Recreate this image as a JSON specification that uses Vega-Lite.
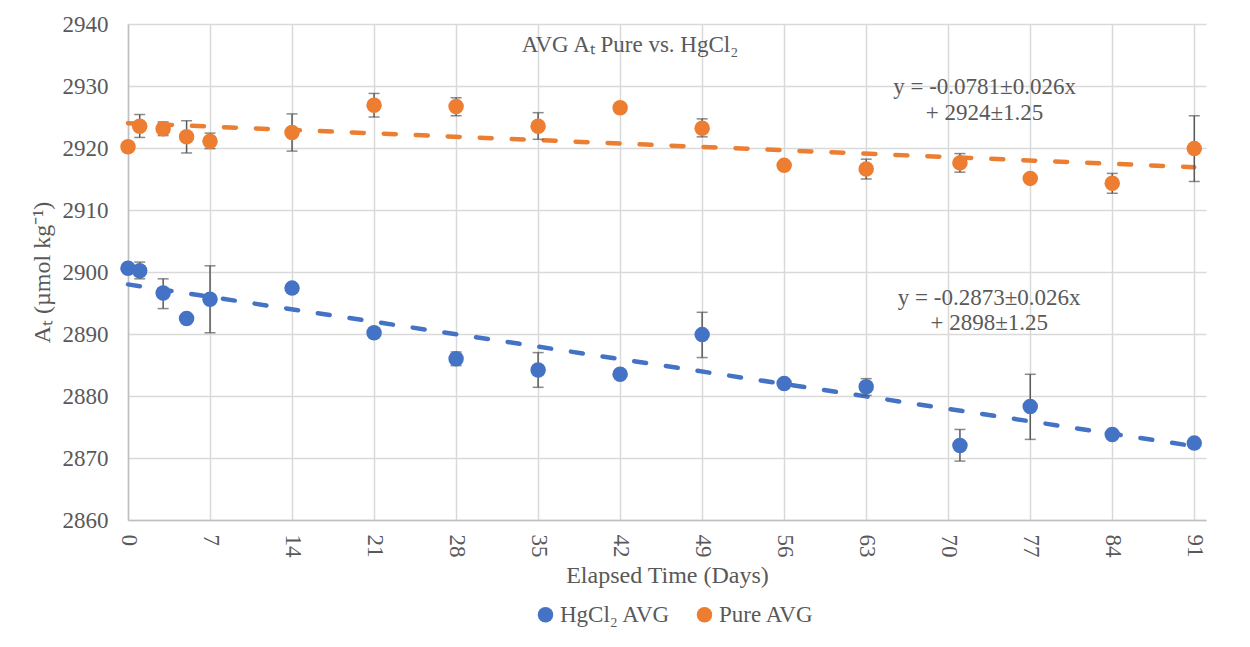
{
  "$schema": "https://vega.github.io/schema/vega-lite/v6.json",
  "autosize": {"type": "none"},
  "width": 1078,
  "height": 496,
  "padding": {"left": 128, "top": 24, "right": 44, "bottom": 127},
  "background": "white",
  "config": {
    "font": "Liberation Serif",
    "view": {"stroke": null},
    "axis": {
      "labelFont": "Liberation Serif",
      "titleFont": "Liberation Serif",
      "labelFontSize": 23,
      "titleFontSize": 24,
      "labelColor": "#595959",
      "titleColor": "#595959",
      "titleFontWeight": "normal",
      "gridColor": "#d9d9d9",
      "gridWidth": 1.5,
      "domainColor": "#bfbfbf",
      "domainWidth": 1.5,
      "ticks": false
    },
    "legend": {
      "labelFont": "Liberation Serif",
      "labelFontSize": 23,
      "labelColor": "#595959"
    }
  },
  "title": {
    "text": "AVG Aₜ Pure vs. HgCl₂",
    "font": "Liberation Serif",
    "fontSize": 23,
    "fontWeight": "normal",
    "color": "#595959",
    "anchor": "middle",
    "frame": "group",
    "baseline": "middle",
    "offset": -55,
    "dx": -37
  },
  "datasets": {
    "points": [
      {"series": "Pure AVG", "day": 0, "value": 2920.2},
      {"series": "Pure AVG", "day": 1, "value": 2923.5, "lo": 2921.7, "hi": 2925.4},
      {"series": "Pure AVG", "day": 3, "value": 2923.1, "lo": 2922.0, "hi": 2924.2},
      {"series": "Pure AVG", "day": 5, "value": 2921.8, "lo": 2919.2, "hi": 2924.4},
      {"series": "Pure AVG", "day": 7, "value": 2921.1, "lo": 2919.9, "hi": 2922.4},
      {"series": "Pure AVG", "day": 14, "value": 2922.5, "lo": 2919.5, "hi": 2925.5},
      {"series": "Pure AVG", "day": 21, "value": 2926.9, "lo": 2925.0, "hi": 2928.8},
      {"series": "Pure AVG", "day": 28, "value": 2926.7, "lo": 2925.2, "hi": 2928.1},
      {"series": "Pure AVG", "day": 35, "value": 2923.5, "lo": 2921.4, "hi": 2925.7},
      {"series": "Pure AVG", "day": 42, "value": 2926.5},
      {"series": "Pure AVG", "day": 49, "value": 2923.2, "lo": 2921.8, "hi": 2924.7},
      {"series": "Pure AVG", "day": 56, "value": 2917.2},
      {"series": "Pure AVG", "day": 63, "value": 2916.6, "lo": 2915.0, "hi": 2918.2},
      {"series": "Pure AVG", "day": 71, "value": 2917.6, "lo": 2916.1, "hi": 2919.1},
      {"series": "Pure AVG", "day": 77, "value": 2915.1},
      {"series": "Pure AVG", "day": 84, "value": 2914.3, "lo": 2912.7, "hi": 2915.9},
      {"series": "Pure AVG", "day": 91, "value": 2919.9, "lo": 2914.6, "hi": 2925.2},
      {"series": "HgCl₂ AVG", "day": 0, "value": 2900.6},
      {"series": "HgCl₂ AVG", "day": 1, "value": 2900.2, "lo": 2898.9, "hi": 2901.6},
      {"series": "HgCl₂ AVG", "day": 3, "value": 2896.6, "lo": 2894.1, "hi": 2898.9},
      {"series": "HgCl₂ AVG", "day": 5, "value": 2892.5},
      {"series": "HgCl₂ AVG", "day": 7, "value": 2895.6, "lo": 2890.2, "hi": 2901.0},
      {"series": "HgCl₂ AVG", "day": 14, "value": 2897.4},
      {"series": "HgCl₂ AVG", "day": 21, "value": 2890.2},
      {"series": "HgCl₂ AVG", "day": 28, "value": 2886.0, "lo": 2884.9, "hi": 2887.1},
      {"series": "HgCl₂ AVG", "day": 35, "value": 2884.2, "lo": 2881.4, "hi": 2887.0},
      {"series": "HgCl₂ AVG", "day": 42, "value": 2883.5, "lo": 2883.0, "hi": 2884.1},
      {"series": "HgCl₂ AVG", "day": 49, "value": 2889.9, "lo": 2886.2, "hi": 2893.5},
      {"series": "HgCl₂ AVG", "day": 56, "value": 2882.0},
      {"series": "HgCl₂ AVG", "day": 63, "value": 2881.5, "lo": 2880.1, "hi": 2882.8},
      {"series": "HgCl₂ AVG", "day": 71, "value": 2872.0, "lo": 2869.5, "hi": 2874.6},
      {"series": "HgCl₂ AVG", "day": 77, "value": 2878.3, "lo": 2873.0, "hi": 2883.5},
      {"series": "HgCl₂ AVG", "day": 84, "value": 2873.8},
      {"series": "HgCl₂ AVG", "day": 91, "value": 2872.4}
    ],
    "trend": [
      {"series": "Pure AVG", "day": 0, "value": 2924.0},
      {"series": "Pure AVG", "day": 91, "value": 2916.9},
      {"series": "HgCl₂ AVG", "day": 0, "value": 2898.0},
      {"series": "HgCl₂ AVG", "day": 91, "value": 2871.9}
    ],
    "notes": [
      {"day": 73.1, "value": 2929.9, "text": "y = -0.0781±0.026x"},
      {"day": 73.1, "value": 2925.6, "text": "+ 2924±1.25"},
      {"day": 73.5, "value": 2895.8, "text": "y = -0.2873±0.026x"},
      {"day": 73.5, "value": 2891.7, "text": "+ 2898±1.25"}
    ]
  },
  "encoding": {
    "x": {
      "field": "day",
      "type": "quantitative",
      "scale": {"domain": [0, 92], "nice": false, "zero": false},
      "axis": {
        "values": [0, 7, 14, 21, 28, 35, 42, 49, 56, 63, 70, 77, 84, 91],
        "format": "d",
        "labelFont": "Liberation Serif",
        "labelAngle": 90,
        "labelAlign": "left",
        "labelBaseline": "middle",
        "labelPadding": 14,
        "title": "Elapsed Time (Days)",
        "titlePadding": 6,
        "labelFlush": false,
        "labelOverlap": false
      }
    },
    "y": {
      "field": "value",
      "type": "quantitative",
      "scale": {"domain": [2860, 2940], "nice": false, "zero": false},
      "axis": {
        "values": [2860, 2870, 2880, 2890, 2900, 2910, 2920, 2930, 2940],
        "format": "d",
        "labelFont": "Liberation Serif",
        "labelPadding": 20,
        "title": "Aₜ (µmol kg⁻¹)",
        "titlePadding": 8,
        "labelFlush": false,
        "labelOverlap": false
      }
    }
  },
  "layer": [
    {
      "data": {"name": "trend"},
      "transform": [{"filter": "datum.series === 'Pure AVG'"}],
      "mark": {"type": "line", "color": "#ED7D31", "strokeWidth": 4.5, "strokeDash": [12, 20], "strokeCap": "round"},
      "encoding": {}
    },
    {
      "data": {"name": "trend"},
      "transform": [{"filter": "datum.series === 'HgCl₂ AVG'"}],
      "mark": {"type": "line", "color": "#4472C4", "strokeWidth": 4.5, "strokeDash": [12, 20], "strokeCap": "round"},
      "encoding": {}
    },
    {
      "data": {"name": "points"},
      "transform": [{"filter": "isValid(datum.lo)"}],
      "mark": {"type": "rule", "color": "#595959", "strokeWidth": 1.5},
      "encoding": {"y": {"field": "lo", "type": "quantitative"}, "y2": {"field": "hi"}}
    },
    {
      "data": {"name": "points"},
      "transform": [{"filter": "isValid(datum.lo)"}],
      "mark": {"type": "tick", "color": "#595959", "orient": "horizontal", "size": 11, "thickness": 1.5},
      "encoding": {"y": {"field": "lo", "type": "quantitative"}}
    },
    {
      "data": {"name": "points"},
      "transform": [{"filter": "isValid(datum.hi)"}],
      "mark": {"type": "tick", "color": "#595959", "orient": "horizontal", "size": 11, "thickness": 1.5},
      "encoding": {"y": {"field": "hi", "type": "quantitative"}}
    },
    {
      "data": {"name": "points"},
      "mark": {"type": "circle", "size": 240, "opacity": 1},
      "encoding": {
        "color": {
          "field": "series",
          "type": "nominal",
          "scale": {"domain": ["HgCl₂ AVG", "Pure AVG"], "range": ["#4472C4", "#ED7D31"]},
          "legend": {
            "title": null,
            "orient": "none",
            "direction": "horizontal",
            "legendX": 406,
            "legendY": 579,
            "symbolType": "circle",
            "symbolSize": 240,
            "symbolOpacity": 1,
            "labelOffset": 3,
            "columnPadding": 22,
            "padding": 0
          }
        }
      }
    },
    {
      "data": {"name": "notes"},
      "mark": {"type": "text", "font": "Liberation Serif", "fontSize": 23, "color": "#595959", "align": "center", "baseline": "middle"},
      "encoding": {"text": {"field": "text"}}
    }
  ]
}
